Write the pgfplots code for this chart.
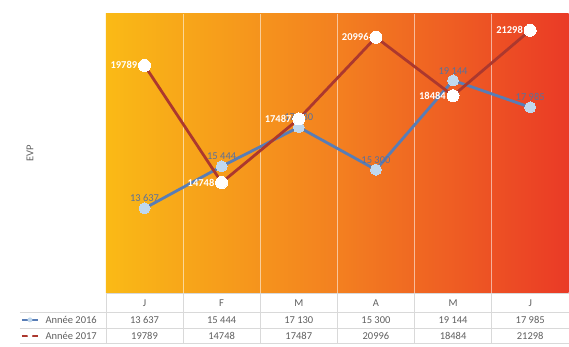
\documentclass[border=0pt]{standalone}
\usepackage{pgfplots}
\pgfplotsset{compat=1.18}
\usepackage{fontspec}
\setmainfont{Carlito}
\definecolor{bgL}{RGB}{250,186,22}
\definecolor{bgM}{RGB}{243,128,32}
\definecolor{bgR}{RGB}{234,58,38}
\definecolor{blueL}{RGB}{88,125,182}
\definecolor{redL}{RGB}{172,56,46}
\definecolor{mk16}{RGB}{192,216,238}
\definecolor{lab16}{RGB}{90,112,155}
\definecolor{txt}{RGB}{95,95,95}
\definecolor{gridc}{RGB}{217,217,217}
\begin{document}
\begin{tikzpicture}[font=\fontsize{10.5}{12}\selectfont]
\begin{axis}[name=ax, scale only axis, width=463pt, height=279pt,
  xmin=0, xmax=6, ymin=10000, ymax=22000,
  axis line style={draw=none}, ytick=\empty, xtick={1,2,3,4,5}, xticklabels={},
  major tick length=0pt,
  xmajorgrids, major grid style={white, opacity=0.55, line width=0.6pt},
  axis background/.style={left color=bgL, right color=bgR, middle color=bgM},
  ylabel={EVP}, ylabel style={at={(axis description cs:-0.164,0.5)}, anchor=center, text=txt},
  clip=false,
  nodes near coords, point meta=explicit symbolic]
\addplot[blueL, line width=2.8pt, mark=*, mark size=5.5pt,
  mark options={fill=mk16, draw=mk16, line width=0pt},
  every node near coord/.style={anchor=south, yshift=3pt, text=lab16, font=\fontsize{10.5}{12}\selectfont}]
  coordinates {(0.5,13637) [13 637] (1.5,15444) [15 444] (2.5,17130) [17 130]
               (3.5,15300) [15 300] (4.5,19144) [19 144] (5.5,17985) [17 985]};
\addplot[redL, line width=2.8pt, mark=*, mark size=6pt,
  mark options={fill=white, draw=white, line width=0pt},
  every node near coord/.style={anchor=east, xshift=-4pt, text=white, font=\fontsize{10.5}{12}\selectfont\bfseries}]
  coordinates {(0.5,19789) [19789] (1.5,14748) [14748] (2.5,17487) [17487]
               (3.5,20996) [20996] (4.5,18484) [18484] (5.5,21298) [21298]};
\end{axis}
\begin{scope}[shift={(ax.south west)}, x=1pt, y=1pt]
  \path (-106,-54) rectangle (463,293);
  \draw[gridc, line width=0.5pt] (0,0) -- (463,0);
  \draw[gridc, line width=0.5pt] (-86,-19) -- (463,-19);
  \draw[gridc, line width=0.5pt] (-86,-35) -- (463,-35);
  \draw[gridc, line width=0.5pt] (-86,-50) -- (463,-50);
  \foreach \i in {0,...,6} {
    \draw[gridc, line width=0.5pt] ({77.1667*\i},0) -- ({77.1667*\i},-50);
  }
  \foreach \m [count=\i from 0] in {J,F,M,A,M,J} {
    \node[text=txt] at ({38.58+77.1667*\i},-10.5) {\m};
  }
  \foreach \v [count=\i from 0] in {13 637,15 444,17 130,15 300,19 144,17 985} {
    \node[text=txt] at ({38.58+77.1667*\i},-27) {\v};
  }
  \foreach \v [count=\i from 0] in {19789,14748,17487,20996,18484,21298} {
    \node[text=txt] at ({38.58+77.1667*\i},-43) {\v};
  }
  \draw[blueL, line width=2pt] (-84,-27) -- (-68,-27);
  \fill[mk16] (-76,-27) circle (2.5);
  \draw[redL, line width=2pt] (-84,-43) -- (-68,-43);
  \fill[white] (-76,-43) circle (2.5);
  \node[text=txt, anchor=east, inner sep=0pt] at (-9,-27) {Année 2016};
  \node[text=txt, anchor=east, inner sep=0pt] at (-9,-43) {Année 2017};
\end{scope}
\end{tikzpicture}
\end{document}
